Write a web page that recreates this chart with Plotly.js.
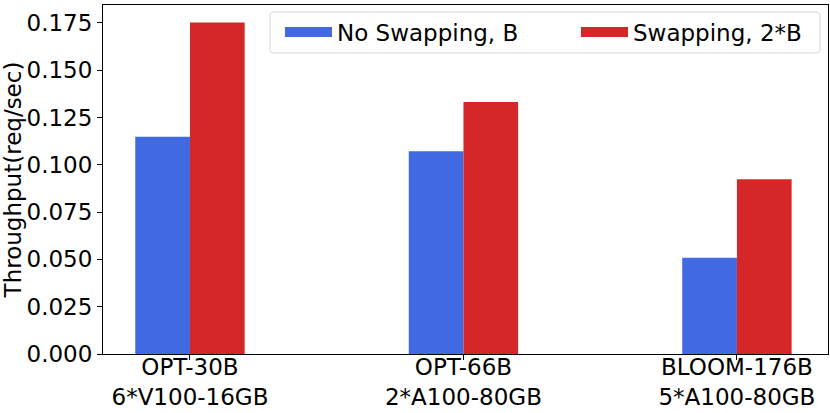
<!DOCTYPE html>
<html>
<head>
<meta charset="utf-8">
<script src="https://cdn.plot.ly/plotly-3.0.1.min.js"></script>
<style>html,body{margin:0;padding:0;background:#fff;}#chart{width:830px;height:413px;}</style>
</head>
<body>
<div id="chart"></div>
<script>
var categories = ["OPT-30B<br>6*V100-16GB", "OPT-66B<br>2*A100-80GB", "BLOOM-176B<br>5*A100-80GB"];
var noSwapping = [0.1148, 0.1072, 0.0509];
var swapping = [0.1752, 0.1332, 0.0924];
var seriesNames = ["No Swapping, B", "Swapping, 2*B"];
var colors = ["#4169E1", "#D62728"];

var font = {family: "DejaVu Sans", size: 23, color: "#000"};

var traces = [
  {type: "bar", x: categories, y: noSwapping, name: seriesNames[0], marker: {color: colors[0]}, showlegend: false},
  {type: "bar", x: categories, y: swapping, name: seriesNames[1], marker: {color: colors[1]}, showlegend: false},
  {type: "scatter", mode: "lines", x: [null], y: [null], name: seriesNames[0], line: {color: colors[0], width: 16}, hoverinfo: "skip", legend: "legend"},
  {type: "scatter", mode: "lines", x: [null], y: [null], name: seriesNames[1], line: {color: colors[1], width: 16}, hoverinfo: "skip", legend: "legend2"}
];

// legend frame (rounded rectangle) in paper coordinates
var fx0 = 0.2303, fx1 = 0.989, fy0 = 0.8625, fy1 = 0.980, rx = 0.0055, ry = 0.0115;
var framePath = "M" + (fx0 + rx) + "," + fy1 +
  " L" + (fx1 - rx) + "," + fy1 +
  " Q" + fx1 + "," + fy1 + " " + fx1 + "," + (fy1 - ry) +
  " L" + fx1 + "," + (fy0 + ry) +
  " Q" + fx1 + "," + fy0 + " " + (fx1 - rx) + "," + fy0 +
  " L" + (fx0 + rx) + "," + fy0 +
  " Q" + fx0 + "," + fy0 + " " + fx0 + "," + (fy0 + ry) +
  " L" + fx0 + "," + (fy1 - ry) +
  " Q" + fx0 + "," + fy1 + " " + (fx0 + rx) + "," + fy1 + " Z";

var legendCommon = {
  orientation: "h", yanchor: "middle", y: 0.9226, xanchor: "left",
  bgcolor: "rgba(0,0,0,0)", borderwidth: 0, font: font, itemwidth: 47, valign: "middle"
};

var layout = {
  width: 830, height: 413,
  margin: {l: 103, r: 2, t: 5, b: 59, pad: 0},
  paper_bgcolor: "#fff", plot_bgcolor: "#fff",
  font: font,
  barmode: "group", bargap: 0.6, bargroupgap: 0,
  xaxis: {
    type: "category", range: [-0.318, 2.333], autorange: false,
    showline: true, mirror: true, linecolor: "#000", linewidth: 1,
    ticks: "outside", ticklen: 5, tickwidth: 1, tickcolor: "#000",
    showgrid: false, zeroline: false, tickfont: font, automargin: false,
    ticklabelstandoff: -13
  },
  yaxis: {
    range: [0, 0.1845], autorange: false, dtick: 0.025, tick0: 0, tickformat: ".3f",
    showline: true, mirror: true, linecolor: "#000", linewidth: 1,
    ticks: "outside", ticklen: 5, tickwidth: 1, tickcolor: "#000",
    showgrid: false, zeroline: false, tickfont: font, automargin: false,
    title: {text: "Throughput(req/sec)", font: font, standoff: 0}
  },
  shapes: [{
    type: "path", xref: "paper", yref: "paper", path: framePath,
    line: {color: "#d6d6d6", width: 1}, fillcolor: "rgba(255,255,255,0.8)", layer: "above"
  }],
  legend: Object.assign({}, legendCommon, {x: 0.2441}),
  legend2: Object.assign({}, legendCommon, {x: 0.6524}),
  showlegend: true
};

Plotly.newPlot("chart", traces, layout, {staticPlot: true, displayModeBar: false});
</script>
</body>
</html>
